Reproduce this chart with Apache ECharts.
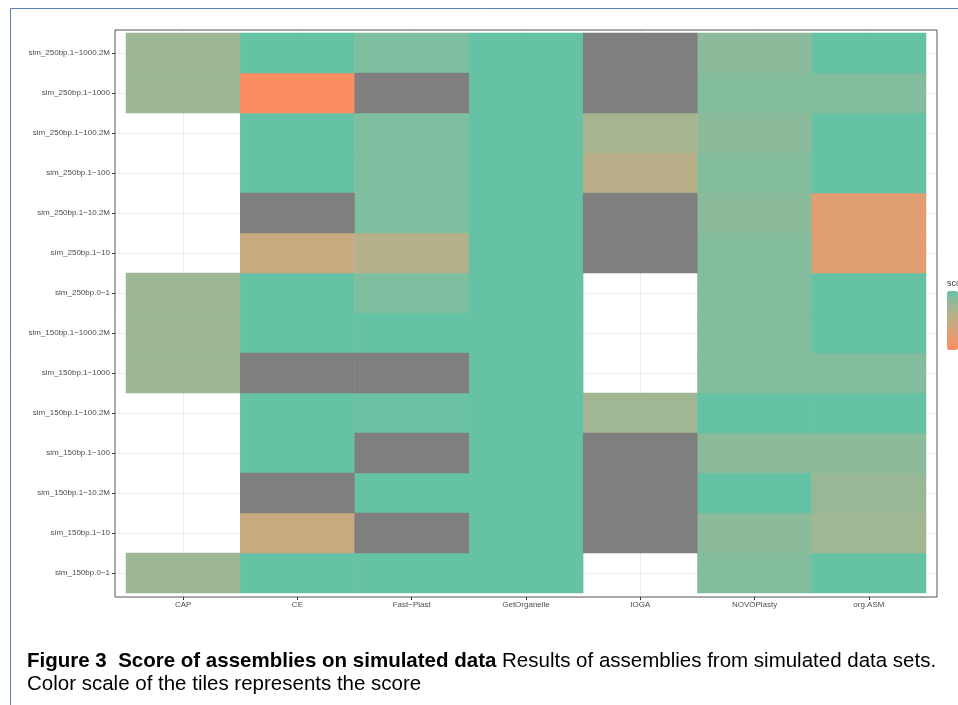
<!DOCTYPE html>
<html><head><meta charset="utf-8">
<script src="https://cdn.jsdelivr.net/npm/echarts@6/dist/echarts.min.js"></script>
<style>html,body{margin:0;padding:0;background:#fff}#c{width:958px;height:705px}</style>
</head><body><div id="c"></div>
<script>
// ---- data ----
const tools = ['CAP', 'CE', 'Fast−Plast', 'GetOrganelle', 'IOGA', 'NOVOPlasty', 'org.ASM'];
const datasets = ['sim_150bp.0−1', 'sim_150bp.1−10', 'sim_150bp.1−10.2M', 'sim_150bp.1−100', 'sim_150bp.1−100.2M',
  'sim_150bp.1−1000', 'sim_150bp.1−1000.2M', 'sim_250bp.0−1', 'sim_250bp.1−10', 'sim_250bp.1−10.2M',
  'sim_250bp.1−100', 'sim_250bp.1−100.2M', 'sim_250bp.1−1000', 'sim_250bp.1−1000.2M'];
// scores per dataset (same order as datasets); 'NA' = failed (grey tile), null = no tile
const CAP          = [0.745, null, null, null, null, 0.745, 0.745, 0.745, null, null, null, null, 0.745, 0.745];
const CE           = [1, 0.45, 'NA', 1, 1, 'NA', 1, 1, 0.45, 'NA', 1, 1, 0, 1];
const FastPlast    = [1, 'NA', 1, 'NA', 0.98, 'NA', 1, 0.9, 0.6, 0.9, 0.9, 0.9, 'NA', 0.9];
const GetOrganelle = [1, 1, 1, 1, 1, 1, 1, 1, 1, 1, 1, 1, 1, 1];
const IOGA         = [null, 'NA', 'NA', 'NA', 0.72, null, null, null, 'NA', 'NA', 0.57, 0.69, 'NA', 'NA'];
const NOVOPlasty   = [0.88, 0.84, 1, 0.84, 1, 0.88, 0.88, 0.88, 0.88, 0.84, 0.88, 0.84, 0.88, 0.84];
const orgASM       = [1, 0.72, 0.77, 0.84, 1, 0.88, 1, 1, 0.25, 0.25, 1, 1, 0.88, 1];
const scoreMin = 0, scoreMax = 1;

// ---- build series data ----
const columns = [CAP, CE, FastPlast, GetOrganelle, IOGA, NOVOPlasty, orgASM];
const scoreData = [], naData = [];
columns.forEach((col, xi) => col.forEach((v, yi) => {
  if (v === 'NA') naData.push([xi, yi, 0]);
  else if (v !== null) scoreData.push([xi, yi, v]);
}));

// ---- Lab colour gradient (like ggplot scale_fill_gradient) ----
function hex2rgb(h){return [1,3,5].map(i=>parseInt(h.substr(i,2),16));}
function s2l(c){c/=255;return c<=0.04045?c/12.92:Math.pow((c+0.055)/1.055,2.4);}
function l2s(c){c=c<=0.0031308?12.92*c:1.055*Math.pow(c,1/2.4)-0.055;return Math.round(Math.max(0,Math.min(1,c))*255);}
function rgb2lab(rgb){const [r,g,b]=rgb.map(s2l);const x=(0.4124*r+0.3576*g+0.1805*b)/0.95047,y=0.2126*r+0.7152*g+0.0722*b,z=(0.0193*r+0.1192*g+0.9505*b)/1.08883;
  const f=t=>t>0.008856?Math.cbrt(t):7.787*t+16/116;const fx=f(x),fy=f(y),fz=f(z);return [116*fy-16,500*(fx-fy),200*(fy-fz)];}
function lab2hex(L,a,b){const fy=(L+16)/116,fx=fy+a/500,fz=fy-b/200;const fi=t=>t>0.206893?t*t*t:(t-16/116)/7.787;
  const x=fi(fx)*0.95047,y=fi(fy),z=fi(fz)*1.08883;const r=3.2406*x-1.5372*y-0.4986*z,g=-0.9689*x+1.8758*y+0.0415*z,bb=0.0557*x-0.2040*y+1.0570*z;
  return '#'+[r,g,bb].map(v=>l2s(v).toString(16).padStart(2,'0')).join('');}
const lowLab = rgb2lab(hex2rgb('#FC8D62')), highLab = rgb2lab(hex2rgb('#66C2A5'));
const stops = [];
for (let i = 0; i <= 24; i++) { const t = i/24; stops.push(lab2hex(...lowLab.map((v,k)=>v+(highLab[k]-v)*t))); }

const axisFont = {fontSize: 8, color: '#4D4D4D', fontFamily: 'Liberation Sans, Arial, sans-serif'};
const capFont = 'Liberation Sans, Arial, sans-serif';
const chart = echarts.init(document.getElementById('c'), null, {renderer: 'canvas'});
chart.setOption({
  animation: false,
  backgroundColor: '#ffffff',
  grid: {left: 126, top: 33, width: 800, height: 560, containLabel: false},
  xAxis: [
    {type: 'category', data: tools, position: 'bottom', offset: 4,
     axisLine: {show: false}, splitLine: {show: false},
     axisTick: {show: true, alignWithLabel: true, interval: 0, length: 3, lineStyle: {color: '#333333', width: 1}},
     axisLabel: Object.assign({interval: 0, margin: 4}, axisFont)},
    {type: 'category', data: tools, position: 'bottom', offset: 4,
     axisLine: {show: false}, splitLine: {show: false}, axisLabel: {show: false},
     axisTick: {show: true, inside: true, alignWithLabel: true, interval: 0, length: 567, lineStyle: {color: '#EBEBEB', width: 1}}}
  ],
  yAxis: [
    {type: 'category', data: datasets, position: 'left', offset: 11,
     axisLine: {show: false}, splitLine: {show: false},
     axisTick: {show: true, alignWithLabel: true, interval: 0, length: 3, lineStyle: {color: '#333333', width: 1}},
     axisLabel: Object.assign({interval: 0, margin: 5}, axisFont)},
    {type: 'category', data: datasets, position: 'left', offset: 11,
     axisLine: {show: false}, splitLine: {show: false}, axisLabel: {show: false},
     axisTick: {show: true, inside: true, alignWithLabel: true, interval: 0, length: 822, lineStyle: {color: '#EBEBEB', width: 1}}}
  ],
  visualMap: {
    type: 'continuous', min: scoreMin, max: scoreMax, seriesIndex: 0, dimension: 2,
    calculable: false, orient: 'vertical', left: 947, top: 291, itemWidth: 11, itemHeight: 59,
    padding: 0, inRange: {color: stops}, textStyle: {fontSize: 8, color: '#4D4D4D'}
  },
  series: [
    {type: 'heatmap', name: 'score', data: scoreData, xAxisIndex: 0, yAxisIndex: 0, itemStyle: {borderWidth: 0}, emphasis: {disabled: true}},
    {type: 'heatmap', name: 'NA', data: naData, xAxisIndex: 0, yAxisIndex: 0, itemStyle: {color: '#7F7F7F', borderWidth: 0}, emphasis: {disabled: true}}
  ],
  graphic: [
    {type: 'rect', z: 100, shape: {x: 115, y: 30, width: 822, height: 567}, style: {fill: null, stroke: '#555555', lineWidth: 1}},
    {type: 'line', z: 100, shape: {x1: 10.5, y1: 8.5, x2: 958, y2: 8.5}, style: {stroke: '#5b7fb0', lineWidth: 1}},
    {type: 'line', z: 100, shape: {x1: 10.5, y1: 8.5, x2: 10.5, y2: 705}, style: {stroke: '#5b7fb0', lineWidth: 1}},
    {type: 'text', z: 100, x: 947, y: 279, style: {text: 'score', fontSize: 9, fill: '#333333', fontFamily: capFont}},
    {type: 'text', z: 100, x: 27, y: 650, style: {
      text: '{b|Figure 3  Score of assemblies on simulated data} Results of assemblies from simulated data sets.\nColor scale of the tiles represents the score',
      fontSize: 20.5, lineHeight: 23, fill: '#000000', fontFamily: capFont,
      rich: {b: {fontWeight: 'bold', fontSize: 20.5, lineHeight: 23, fontFamily: capFont}}}}
  ]
});
</script></body></html>
